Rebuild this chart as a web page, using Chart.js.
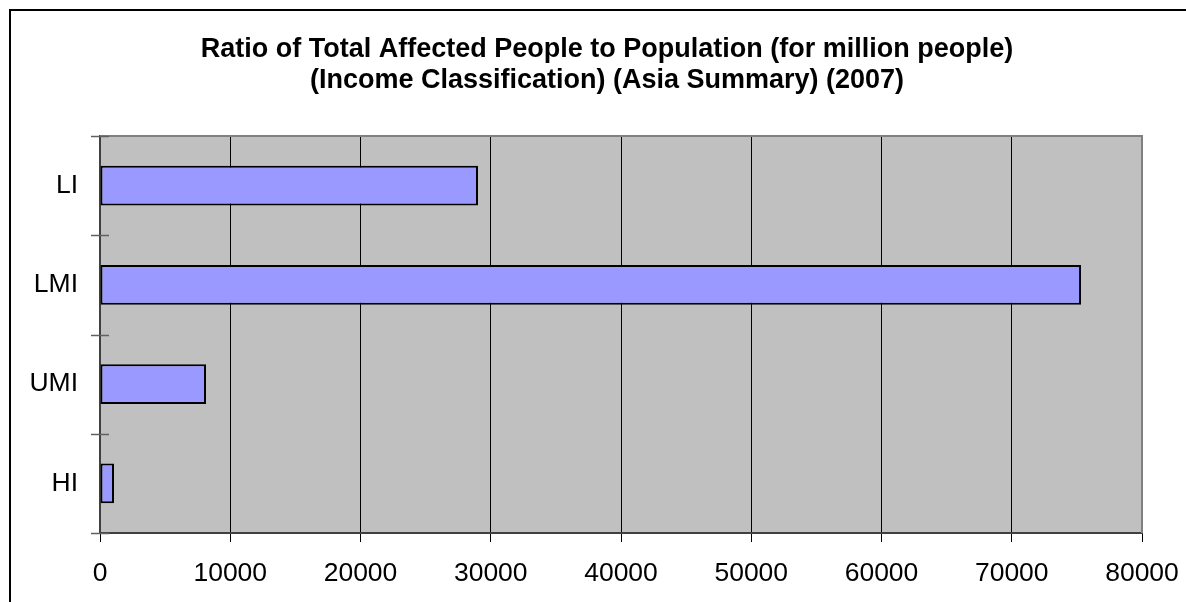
<!DOCTYPE html>
<html>
<head>
<meta charset="utf-8">
<script src="https://cdn.jsdelivr.net/npm/chart.js@4/dist/chart.umd.min.js"></script>
<style>
  html, body { margin: 0; padding: 0; background: #ffffff; }
  #wrap { width: 1186px; height: 602px; }
</style>
</head>
<body>
<div id="wrap"><canvas id="c" width="1186" height="602"></canvas></div>
<script>
// Income groups and their ratio of affected people (per million population)
const categories = ['LI', 'LMI', 'UMI', 'HI'];
const ratioValues = [29020, 75320, 8140, 1075];
const xTickValues = [0, 10000, 20000, 30000, 40000, 50000, 60000, 70000, 80000];
const titleLines = [
  'Ratio of Total Affected People to Population (for million people)',
  '(Income Classification) (Asia Summary) (2007)'
];

const FONT = "'Liberation Sans', Arial, sans-serif";

// Grey plot background plus the plot frame (top and right edges)
const plotFrame = {
  id: 'plotFrame',
  beforeDraw(chart) {
    const { ctx, chartArea: a } = chart;
    ctx.save();
    ctx.fillStyle = '#C0C0C0';
    ctx.fillRect(a.left, a.top, a.right - a.left, a.bottom - a.top);
    ctx.restore();
  },
  afterDatasetsDraw(chart) {
    const { ctx, chartArea: a } = chart;
    ctx.save();
    ctx.strokeStyle = '#808080';
    ctx.lineWidth = 2;
    ctx.beginPath();
    ctx.moveTo(a.left, a.top);
    ctx.lineTo(a.right, a.top);
    ctx.lineTo(a.right, a.bottom);
    ctx.stroke();
    ctx.restore();
  }
};

// Category-axis tick marks that cross the axis line, between the categories
const crossTicks = {
  id: 'crossTicks',
  afterDraw(chart) {
    const { ctx } = chart;
    const y = chart.scales.y;
    const x0 = y.right;
    ctx.save();
    ctx.strokeStyle = '#606060';
    ctx.lineWidth = 1.5;
    for (let i = 0; i <= categories.length; i++) {
      const py = Math.round(y.getPixelForValue(i - 0.5)) + 0.5;
      ctx.beginPath();
      ctx.moveTo(x0 - 9, py);
      ctx.lineTo(x0 + 9, py);
      ctx.stroke();
    }
    ctx.restore();
  }
};

// Two-line bold title and the outer chart frame
const titleAndFrame = {
  id: 'titleAndFrame',
  afterDraw(chart) {
    const { ctx, width, height } = chart;
    ctx.save();
    ctx.strokeStyle = '#000000';
    ctx.lineWidth = 2;
    ctx.beginPath();
    ctx.moveTo(10, height);
    ctx.lineTo(10, 10);
    ctx.lineTo(width, 10);
    ctx.stroke();

    ctx.fillStyle = '#000000';
    ctx.font = 'bold 27px ' + FONT;
    ctx.textAlign = 'center';
    ctx.textBaseline = 'alphabetic';
    ctx.fillText(titleLines[0], 607, 57);
    ctx.fillText(titleLines[1], 607, 88);
    ctx.restore();
  }
};

new Chart(document.getElementById('c'), {
  type: 'bar',
  data: {
    labels: categories,
    datasets: [{
      data: ratioValues,
      backgroundColor: '#9999FF',
      borderColor: '#000000',
      borderWidth: 2,
      borderSkipped: false,
      barPercentage: 0.4,
      categoryPercentage: 1.0
    }]
  },
  options: {
    indexAxis: 'y',
    responsive: false,
    animation: false,
    devicePixelRatio: 1,
    layout: { padding: { left: 0, right: 44, top: 136, bottom: 0 } },
    plugins: {
      legend: { display: false },
      title: { display: false },
      tooltip: { enabled: false }
    },
    scales: {
      x: {
        type: 'linear',
        min: xTickValues[0],
        max: xTickValues[xTickValues.length - 1],
        afterBuildTicks(scale) {
          scale.ticks = xTickValues.map(v => ({ value: v }));
        },
        afterFit(scale) {
          scale.height = 69;
          scale.paddingLeft = 0;
          scale.paddingRight = 0;
        },
        grid: {
          color: '#000000',
          lineWidth: 1,
          drawOnChartArea: true,
          drawTicks: true,
          tickLength: 9,
          tickColor: '#000000'
        },
        border: { display: true, color: '#404040', width: 2 },
        ticks: {
          color: '#000000',
          padding: 16,
          maxRotation: 0,
          autoSkip: false,
          callback: (v) => String(v),
          font: { family: FONT, size: 26.5 }
        }
      },
      y: {
        type: 'category',
        afterFit(scale) { scale.width = 100; },
        grid: { display: true, drawOnChartArea: false, drawTicks: false, offset: true },
        border: { display: true, color: '#404040', width: 2 },
        ticks: {
          color: '#000000',
          padding: 22,
          font: { family: FONT, size: 26.5 }
        }
      }
    }
  },
  plugins: [plotFrame, crossTicks, titleAndFrame]
});
</script>
</body>
</html>
